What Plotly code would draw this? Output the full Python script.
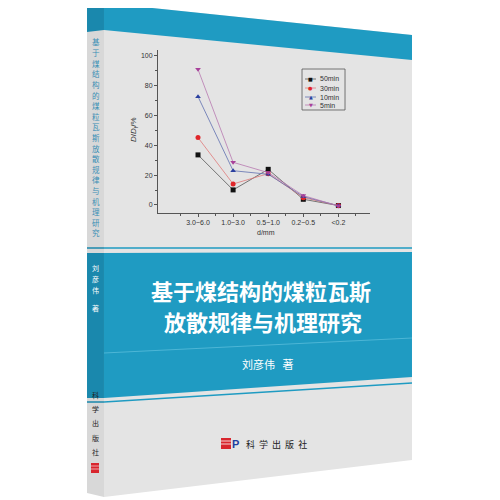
import plotly.graph_objects as go

# ---- data ----
categories = ["3.0~6.0", "1.0~3.0", "0.5~1.0", "0.2~0.5", "<0.2"]
series_names = ["50min", "30min", "10min", "5min"]
s_50min = [33.6, 10.1, 23.9, 3.8, -0.4]
s_30min = [45.2, 14.1, 21.0, 4.9, -0.4]
s_10min = [72.7, 23.0, 20.6, 5.6, -0.5]
s_5min = [91.0, 28.6, 21.7, 6.3, -0.7]
y_ticks = [0, 20, 40, 60, 80, 100]

title_line1 = "基于煤结构的煤粒瓦斯"
title_line2 = "放散规律与机理研究"
author = "刘彦伟"
publisher = "科学出版社"

# ---- helpers (window pixel -> paper); page body has an 8px margin ----
OFF = 8
W = H = 492
def px(x):
    return (x - OFF) / W
def py(y):
    return 1 - (y - OFF) / H
def quad(pts):
    return "M " + " L ".join(f"{px(x):.4f},{py(y):.4f}" for x, y in pts) + " Z"

BLUE = "#1f9bc2"
BLUE_D = "#1a88ad"
GRAY = "#e4e4e4"
GRAY_S = "#d8d8d8"

shapes = []
def poly(pts, fill, line_w=0, line_c=None, layer="below"):
    shapes.append(dict(type="path", xref="paper", yref="paper", path=quad(pts),
                       fillcolor=fill, line=dict(width=line_w, color=line_c or fill),
                       layer=layer))
def seg(x0, y0, x1, y1, color, w, layer="below"):
    shapes.append(dict(type="line", xref="paper", yref="paper",
                       x0=px(x0), y0=py(y0), x1=px(x1), y1=py(y1),
                       line=dict(color=color, width=w), layer=layer))

# spine
SL, SR = 87, 104
poly([(SL, 5), (SR, 3), (SR, 497), (SL, 493)], GRAY_S)
poly([(SL, 5), (SR, 3), (SR, 30), (SL, 32)], BLUE_D)
poly([(SL, 253), (SR, 253), (SR, 398), (SL, 398)], BLUE_D)
seg(SL, 248, SR, 248, BLUE_D, 1.5)
seg(SL, 402, SR, 402, BLUE_D, 1.5)

# front cover
FL, FR = 104, 412
poly([(FL, 3), (FR, 35), (FR, 460), (FL, 497)], GRAY)
poly([(FL, 3), (FR, 35), (FR, 60), (FL, 30)], BLUE)
poly([(FL, 253), (FR, 252), (FR, 377), (FL, 398)], BLUE)
seg(FL, 248, FR, 248, BLUE, 1.5)
seg(FL, 402, FR, 383, BLUE, 1.5)
seg(FL, 353, FR, 338, "#4db6d6", 1)

# publisher logo (front and spine)
poly([(221, 438), (231, 438), (231, 449), (221, 449)], "#d8262e")
for yy in (441, 444):
    seg(221, yy, 231, yy, "white", 0.8)
poly([(91, 463), (99, 463), (99, 473), (91, 473)], "#d8262e")
seg(91, 466, 99, 466, "white", 0.6)
seg(91, 469, 99, 469, "white", 0.6)

# ---- chart ----
xpos = [i + 1 for i in range(len(categories))]
series = [s_50min, s_30min, s_10min, s_5min]
marker_colors = ["#111111", "#e0262a", "#2a3f9f", "#a8409a"]
line_colors = ["#555555", "#e07a7a", "#6070b0", "#b878b0"]
symbols = ["square", "circle", "triangle-up", "triangle-down"]
legend_glyphs = ["■", "●", "▲", "▼"]

fig = go.Figure()
for name, vals, mc, lc, sym in zip(series_names, series, marker_colors, line_colors, symbols):
    fig.add_trace(go.Scatter(
        x=xpos, y=vals, name=name, mode="lines+markers",
        line=dict(color=lc, width=0.8),
        marker=dict(color=mc, symbol=sym, size=5, line=dict(width=0)),
        showlegend=False,
    ))

axis_font = dict(family="Liberation Sans, Arial", size=7, color="#333333")
fig.update_xaxes(
    domain=[px(158), px(370)], range=[-0.14, 5.9],
    tickvals=xpos, ticktext=categories, tickfont=axis_font,
    showline=True, linecolor="#555555", linewidth=1,
    ticks="outside", ticklen=3, tickcolor="#555555",
    minor=dict(tickvals=[0.5 + i for i in range(6)], ticks="outside", ticklen=2, tickcolor="#555555"),
    showgrid=False, zeroline=False,
)
fig.update_yaxes(
    domain=[py(213), py(50)], range=[-5.4, 104],
    tickvals=y_ticks, tickfont=axis_font,
    showline=True, linecolor="#555555", linewidth=1,
    ticks="outside", ticklen=3, tickcolor="#555555",
    minor=dict(tickvals=[10, 30, 50, 70, 90], ticks="outside", ticklen=2, tickcolor="#555555"),
    showgrid=False, zeroline=False,
)

annotations = []
def ann(text, x, y, size, color, family="Noto Sans CJK SC", angle=0, xanchor="center"):
    annotations.append(dict(text=text, xref="paper", yref="paper", x=px(x), y=py(y),
                            showarrow=False, textangle=angle,
                            font=dict(size=size, color=color, family=family),
                            xanchor=xanchor, yanchor="middle"))

ann("<i>D</i>/<i>D</i><sub>f</sub>/%", 134, 130, 8, "#333333", family="Liberation Sans, Arial", angle=-90)
ann("d/mm", 266, 233, 7, "#333333", family="Liberation Sans, Arial")

# manual compact legend (Origin style)
poly([(302, 69), (345, 69), (345, 110), (302, 110)], "rgba(0,0,0,0)", 0.8, "#555555", layer="above")
legend_rows = [79, 88, 97, 105]
for name, lc, mc, g, ry in zip(series_names, line_colors, marker_colors, legend_glyphs, legend_rows):
    seg(305, ry, 316, ry, lc, 0.8, layer="above")
    ann(g, 310.5, ry, 5, mc, family="DejaVu Sans")
    ann(name, 318, ry, 7, "#333333", family="Liberation Sans, Arial", xanchor="left")

# cover title
ann("<b>" + title_line1 + "</b>", 261, 290, 22, "white")
ann("<b>" + title_line2 + "</b>", 263, 321, 22, "white")
ann(author + "   著", 267, 364, 11, "white")
ann("科  学  出  版  社", 276, 444, 9, "#222222")
ann("<b>P</b>", 235, 444, 11, "#1f3f9f", family="Liberation Sans, Arial")

# spine texts
spine_title = title_line1 + title_line2
n = len(spine_title)
for i, ch in enumerate(spine_title):
    ann(ch, 95.5, 42 + i * (233 - 42) / (n - 1), 7.5, "#3a8fb5")
for i, ch in enumerate(author):
    ann(ch, 95.5, 268 + i * 11, 7, "white")
ann("著", 95.5, 308, 7, "white")
for i, ch in enumerate(publisher):
    ann(ch, 95.5, 395 + i * 14.2, 7, "#222222")

fig.update_layout(
    width=W, height=H, margin=dict(l=0, r=0, t=0, b=0),
    paper_bgcolor="white", plot_bgcolor="rgba(0,0,0,0)",
    shapes=shapes, annotations=annotations,
    showlegend=False,
)

fig.write_html("out.html")
